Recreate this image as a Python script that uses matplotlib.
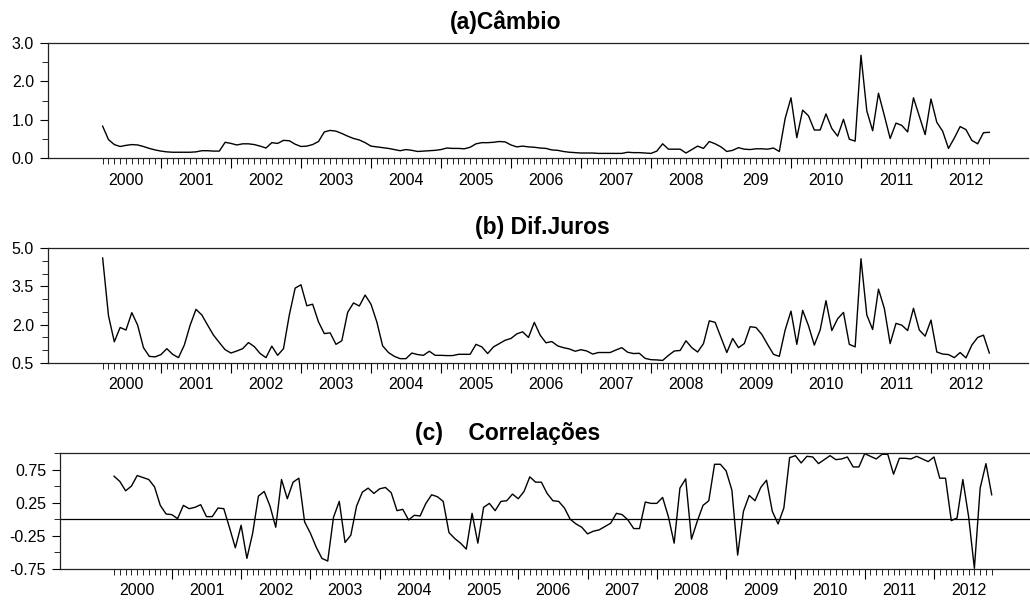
import numpy as np
import matplotlib
matplotlib.use("Agg")
import matplotlib.pyplot as plt
import matplotlib.transforms as mtransforms

plt.rcParams['font.family'] = ['Liberation Sans', 'DejaVu Sans']

# monthly series, Mar 2000 .. Nov 2012
start_year = 2000
start_month = 3

cambio = [
    0.83, 0.48, 0.35, 0.30, 0.33, 0.35, 0.34, 0.30, 0.25, 0.21,
    0.18, 0.16, 0.15, 0.15, 0.15, 0.15, 0.16, 0.19, 0.19, 0.18,
    0.18, 0.41, 0.38, 0.34, 0.37, 0.37, 0.35, 0.31, 0.26, 0.40,
    0.38, 0.46, 0.45, 0.36, 0.30, 0.31, 0.35, 0.43, 0.68, 0.72,
    0.70, 0.64, 0.57, 0.51, 0.47, 0.40, 0.31, 0.29, 0.27, 0.25,
    0.22, 0.19, 0.22, 0.20, 0.17, 0.18, 0.19, 0.20, 0.22, 0.26,
    0.25, 0.25, 0.24, 0.28, 0.37, 0.40, 0.40, 0.41, 0.43, 0.42,
    0.34, 0.29, 0.31, 0.29, 0.28, 0.26, 0.25, 0.21, 0.20, 0.17,
    0.15, 0.14, 0.13, 0.13, 0.13, 0.12, 0.12, 0.12, 0.12, 0.12,
    0.15, 0.14, 0.14, 0.13, 0.12, 0.18, 0.37, 0.23, 0.23, 0.23,
    0.13, 0.22, 0.31, 0.25, 0.43, 0.37, 0.29, 0.17, 0.20, 0.27,
    0.23, 0.22, 0.24, 0.24, 0.23, 0.26, 0.17, 1.03, 1.57, 0.53,
    1.25, 1.10, 0.73, 0.73, 1.15, 0.77, 0.57, 1.01, 0.49, 0.44,
    2.68, 1.23, 0.71, 1.69, 1.11, 0.51, 0.91, 0.85, 0.68, 1.57,
    1.09, 0.61, 1.54, 0.93, 0.70, 0.25, 0.52, 0.82, 0.74, 0.46,
    0.37, 0.66, 0.67,
]

juros = [
    4.61, 2.35, 1.33, 1.89, 1.79, 2.47, 1.98, 1.10, 0.76, 0.74,
    0.83, 1.06, 0.84, 0.71, 1.20, 1.98, 2.60, 2.38, 1.98, 1.59,
    1.30, 1.02, 0.89, 0.97, 1.06, 1.30, 1.14, 0.87, 0.71, 1.16,
    0.80, 1.06, 2.38, 3.43, 3.56, 2.74, 2.80, 2.11, 1.65, 1.68,
    1.23, 1.37, 2.48, 2.85, 2.73, 3.16, 2.80, 2.11, 1.17, 0.91,
    0.76, 0.67, 0.67, 0.89, 0.83, 0.80, 0.96, 0.80, 0.80, 0.79,
    0.79, 0.84, 0.84, 0.84, 1.23, 1.13, 0.87, 1.13, 1.26, 1.39,
    1.46, 1.64, 1.72, 1.50, 2.09, 1.59, 1.29, 1.34, 1.17, 1.10,
    1.05, 0.96, 1.02, 0.97, 0.85, 0.91, 0.91, 0.91, 1.01, 1.10,
    0.92, 0.87, 0.88, 0.68, 0.63, 0.62, 0.60, 0.80, 0.97, 0.99,
    1.37, 1.10, 0.93, 1.26, 2.15, 2.09, 1.50, 0.91, 1.46, 1.10,
    1.26, 1.92, 1.89, 1.62, 1.22, 0.84, 0.76, 1.79, 2.53, 1.23,
    2.56, 1.96, 1.20, 1.79, 2.94, 1.77, 2.23, 2.48, 1.23, 1.13,
    4.58, 2.38, 1.81, 3.39, 2.64, 1.26, 2.05, 1.98, 1.77, 2.64,
    1.79, 1.55, 2.18, 0.93, 0.85, 0.83, 0.71, 0.91, 0.70, 1.20,
    1.50, 1.59, 0.89,
]

correl = [
    0.65, 0.57, 0.43, 0.50, 0.66, 0.63, 0.60, 0.49, 0.21, 0.08,
    0.07, 0.01, 0.21, 0.16, 0.18, 0.22, 0.04, 0.04, 0.17, 0.16,
    -0.13, -0.43, -0.09, -0.59, -0.21, 0.35, 0.42, 0.20, -0.12, 0.60,
    0.31, 0.56, 0.62, -0.04, -0.21, -0.42, -0.59, -0.63, 0.03, 0.27,
    -0.35, -0.24, 0.20, 0.41, 0.47, 0.39, 0.46, 0.48, 0.40, 0.13,
    0.15, -0.01, 0.06, 0.05, 0.24, 0.37, 0.34, 0.27, -0.20, -0.29,
    -0.36, -0.45, 0.09, -0.36, 0.18, 0.24, 0.13, 0.27, 0.28, 0.38,
    0.31, 0.42, 0.64, 0.56, 0.56, 0.39, 0.28, 0.27, 0.17, 0.00,
    -0.07, -0.12, -0.22, -0.18, -0.16, -0.11, -0.06, 0.09, 0.07, -0.01,
    -0.14, -0.14, 0.26, 0.24, 0.24, 0.33, 0.04, -0.36, 0.47, 0.61,
    -0.30, -0.03, 0.21, 0.28, 0.83, 0.83, 0.73, 0.44, -0.54, 0.12,
    0.36, 0.28, 0.48, 0.59, 0.12, -0.07, 0.17, 0.93, 0.96, 0.85,
    0.95, 0.94, 0.84, 0.90, 0.96, 0.90, 0.91, 0.94, 0.79, 0.79,
    0.99, 0.95, 0.91, 0.98, 0.98, 0.68, 0.92, 0.92, 0.91, 0.95,
    0.91, 0.87, 0.94, 0.62, 0.62, -0.02, 0.02, 0.60, 0.04, -0.74,
    0.47, 0.84, 0.37,
]

years = list(range(2000, 2013))
labels_a = ['2000', '2001', '2002', '2003', '2004', '2005', '2006',
            '2007', '2008', '209', '2010', '2011', '2012']
labels_bc = [str(y) for y in years]

titles = ['(a)Câmbio', '(b) Dif.Juros', '(c)    Correlações']


def draw_panel(ax, data, ylim, ymajor, yminor, yfmt, xlabels, label_off):
    x = start_year + (start_month - 1 + np.arange(len(data))) / 12.0
    ax.plot(x, data, color='black', lw=1.0)
    ax.set_xlim(1999.386, 2013.386)
    ax.set_ylim(*ylim)

    ax.spines['right'].set_visible(False)
    for s in ['top', 'bottom', 'left']:
        ax.spines[s].set_linewidth(0.9)
        ax.spines[s].set_color('#222222')

    major = list(range(2001, 2013))
    minor = [v for v in x if abs(v - round(v)) > 1e-6]
    ax.set_xticks(major)
    ax.set_xticklabels([])
    ax.set_xticks(minor, minor=True)
    ax.tick_params(axis='x', which='major', length=7.5, width=0.8, direction='out')
    ax.tick_params(axis='x', which='minor', length=4.3, width=0.6, direction='out')

    ax.set_yticks(ymajor)
    ax.set_yticklabels([yfmt % v for v in ymajor], fontsize=11.5)
    ax.set_yticks(yminor, minor=True)
    ax.tick_params(axis='y', which='major', length=6, width=0.8, pad=4)
    ax.tick_params(axis='y', which='minor', length=4, width=0.6)

    trans = mtransforms.blended_transform_factory(ax.transData, ax.transAxes)
    for yr, lab in zip(years, xlabels):
        ax.annotate(lab, xy=(yr + 0.5, 0), xycoords=trans,
                    xytext=(0, label_off), textcoords='offset points',
                    ha='center', va='baseline', fontsize=11.5)


fig = plt.figure(figsize=(10.30, 6.01), dpi=100)
W, H = 1030.0, 601.0

ax_a = fig.add_axes([48 / W, 1 - 158 / H, 980 / W, 115 / H])
draw_panel(ax_a, cambio, (0, 3.0), [0, 1, 2, 3], [0.5, 1.5, 2.5], '%.1f', labels_a, -19.4)

ax_b = fig.add_axes([48 / W, 1 - 363 / H, 980 / W, 115 / H])
draw_panel(ax_b, juros, (0.5, 5.0), [0.5, 2.0, 3.5, 5.0],
           [1.0, 1.5, 2.5, 3.0, 4.0, 4.5], '%.1f', labels_bc, -19)

ax_c = fig.add_axes([60 / W, 1 - 569 / H, 970 / W, 116 / H])
draw_panel(ax_c, correl, (-0.75, 1.0), [-0.75, -0.25, 0.25, 0.75],
           [-0.5, 0.0, 0.5, 1.0], '%.2f', labels_bc, -18.7)
ax_c.axhline(0, color='black', lw=0.9)

# panel titles (baseline positions in pixels)
title_kw = dict(ha='center', va='baseline', fontsize=16.5, fontweight='bold')
fig.text(506 / W, 1 - 29 / H, titles[0], **title_kw)
fig.text(542 / W, 1 - 234 / H, titles[1], **title_kw)
fig.text(508 / W, 1 - 440 / H, titles[2], **title_kw)

fig.savefig('out.png', dpi=100)
